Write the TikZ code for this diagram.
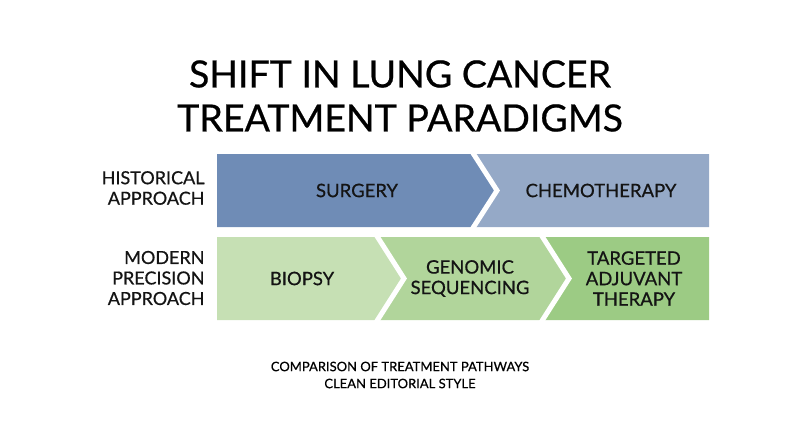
\documentclass[tikz,border=0pt]{standalone}
\usepackage{fontspec}
\setmainfont{Lato}[FakeBold=0.6]
\definecolor{surgerycol}{HTML}{6F8CB6}
\definecolor{chemocol}{HTML}{95A9C7}
\definecolor{biopsycol}{HTML}{C6E0B4}
\definecolor{genomiccol}{HTML}{B1D59B}
\definecolor{targetcol}{HTML}{9CCB84}
\begin{document}
\begin{tikzpicture}[%
    x=1pt, y=-1pt,
    steptext/.style={align=center, text=black!92, font=\fontsize{18.5}{20.5}\selectfont},
    rowlabel/.style={align=right, anchor=east, text=black!92, font=\fontsize{18}{20.5}\selectfont},
    gapline/.style={draw=white, line width=5pt, miter limit=10}
  ]
  \useasboundingbox (0,0) rectangle (800,447);
  % title
  \node (title) [align=center, font=\fontsize{37.5}{44}\selectfont] at (400,96)
    {SHIFT IN LUNG CANCER\\TREATMENT PARADIGMS};
  % historical row
  \fill [surgerycol] (217,154) -- (471,154) -- (497,190.5) -- (471,227) -- (217,227) -- cycle;
  \fill [chemocol] (471,154) -- (709,154) -- (709,227) -- (471,227) -- (497,190.5) -- cycle;
  \draw [gapline] (471,150) -- (497,190.5) -- (471,231);
  % modern row
  \fill [biopsycol] (217,237) -- (375,237) -- (404,278.5) -- (375,320) -- (217,320) -- cycle;
  \fill [genomiccol] (375,237) -- (540,237) -- (569,278.5) -- (540,320) -- (375,320) -- (404,278.5) -- cycle;
  \fill [targetcol] (540,237) -- (709,237) -- (709,320) -- (540,320) -- (569,278.5) -- cycle;
  \foreach \xs in {375,540}
    \draw [gapline] (\xs,233) -- (\xs+29,278.5) -- (\xs,324);
  % row labels
  \node (histlabel) [rowlabel] at (208,188) {HISTORICAL\\APPROACH};
  \node (modlabel) [rowlabel] at (208,278) {MODERN\\PRECISION\\APPROACH};
  % step texts
  \node (surgery) [steptext] at (357,190.5) {SURGERY};
  \node (chemo) [steptext] at (601,190.5) {CHEMOTHERAPY};
  \node (biopsy) [steptext] at (302,278.5) {BIOPSY};
  \node (genomic) [steptext] at (470,278.5) {GENOMIC\\SEQUENCING};
  \node (targeted) [steptext] at (634,278.5) {TARGETED\\ADJUVANT\\THERAPY};
  % caption
  \node (caption) [align=center, font=\fontsize{13}{17}\selectfont] at (400,375)
    {COMPARISON OF TREATMENT PATHWAYS\\CLEAN EDITORIAL STYLE};
\end{tikzpicture}
\end{document}
